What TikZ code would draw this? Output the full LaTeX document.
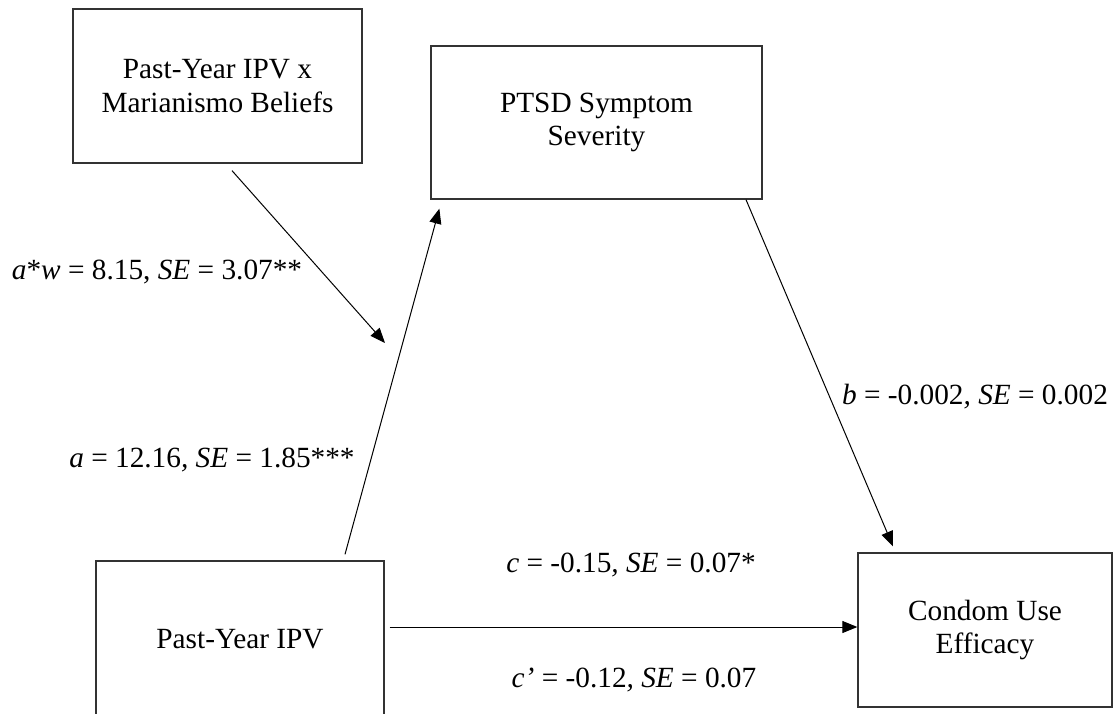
\documentclass[tikz,border=0pt]{standalone}
\usepackage{fontspec}
\setmainfont{Liberation Serif}
\usetikzlibrary{arrows.meta}
\begin{document}
\begin{tikzpicture}[x=1pt,y=-1pt,
  box/.style={draw=black!80, line width=1.3pt, inner sep=0pt, align=center,
    font=\fontsize{29.3pt}{33.7pt}\selectfont},
  arr/.style={-{Triangle[length=15pt,width=12pt]}, line width=1pt},
  lbl/.style={inner sep=0pt, font=\fontsize{29.3pt}{33.7pt}\selectfont}]
\useasboundingbox (0,0) rectangle (1114,713);

% boxes
\node[box, minimum width=289pt, minimum height=154pt] (mod) at (217.5,86) {Past-Year IPV x\\Marianismo Beliefs};
\node[box, minimum width=331pt, minimum height=153pt] (ptsd) at (596.5,122.5) {PTSD Symptom\\Severity};
\node[box, minimum width=288pt, minimum height=156pt] (ipv) at (240,639) {Past-Year IPV};
\node[box, minimum width=254pt, minimum height=154pt] (cue) at (985,630) {Condom Use\\Efficacy};

% paths
\draw[arr] ([xshift=105pt,yshift=6pt]ipv.north) -- ([xshift=9pt,yshift=-9pt]ptsd.south west);
\coordinate (wtip) at (385,343);
\draw[arr] ([xshift=14.5pt,yshift=-7pt]mod.south) -- (wtip);
\draw[arr] ([xshift=149.5pt]ptsd.south) -- ([xshift=-92pt,yshift=6pt]cue.north);
\draw[arr] ([xshift=5pt,yshift=12pt]ipv.east) coordinate (cs) -- (cs -| cue.west);

% labels
\node[lbl] (lw) at (157,272) {\textit{a}*\textit{w} = 8.15, \textit{SE} = 3.07**};
\node[lbl] (la) at (212,460) {\textit{a} = 12.16\textit{,} \textit{SE} = 1.85***};
\node[lbl] (lb) at (975,397) {\textit{b} = -0.002\textit{,} \textit{SE} = 0.002};
\node[lbl] (lc) at (631,565) {\textit{c} = -0.15\textit{,} \textit{SE} = 0.07*};
\node[lbl] (lcp) at (634,680) {\textit{c’} = -0.12\textit{,} \textit{SE} = 0.07};
\end{tikzpicture}
\end{document}
